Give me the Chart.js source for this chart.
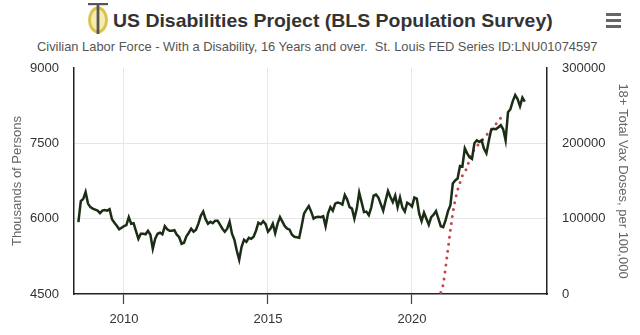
<!DOCTYPE html>
<html>
<head>
<meta charset="utf-8">
<script src="https://cdn.jsdelivr.net/npm/chart.js@4.4.1/dist/chart.umd.min.js"></script>
<style>
  html, body { margin: 0; padding: 0; background: #fff; }
  #wrap { position: relative; width: 640px; height: 335px; overflow: hidden; font-family: 'Liberation Sans', Arial, sans-serif; }
  #chart { position: absolute; left: 0; top: 0; }
  .fit { position: absolute; white-space: nowrap; transform-origin: 0 0; line-height: 1; }
  #title { left: 113px; top: 11px; font-weight: bold; font-size: 19px; color: #333; }
  #subtitle { left: 37px; top: 40px; font-size: 13px; color: #555; }
  #logo { position: absolute; left: 86px; top: 2px; }
  #menu { position: absolute; left: 606px; top: 13px; width: 15px; }
  #menu span { display: block; height: 2.5px; background: #666; margin-bottom: 3.5px; }
</style>
</head>
<body>
<div id="wrap">
  <svg id="logo" width="24" height="34" viewBox="0 0 24 34">
    <ellipse cx="12" cy="18" rx="8.5" ry="12" fill="#f7ecb0" stroke="#dcc24e" stroke-width="3"/>
    <rect x="2" y="1" width="20" height="2.2" fill="#555"/>
    <rect x="10.6" y="1" width="2.8" height="31" fill="#555"/>
  </svg>
  <div id="title" class="fit">US Disabilities Project (BLS Population Survey)</div>
  <div id="subtitle" class="fit">Civilian Labor Force - With a Disability, 16 Years and over.&nbsp; St. Louis FED Series ID:LNU01074597</div>
  <div id="menu"><span></span><span></span><span></span></div>
  <canvas id="chart" width="640" height="335"></canvas>
</div>
<script>
// monthly labour force with a disability (thousands), from June 2008
const laborStartYear = 2008, laborStartMonth = 6;
const laborForce = [
  5930, 6350, 6390, 6530, 6300, 6230, 6200, 6180, 6160, 6110, 6160, 6170,
  6160, 6190, 5990, 5920, 5860, 5790, 5820, 5850, 5870, 6030, 5900, 5910,
  5750, 5600, 5700, 5700, 5690, 5760, 5680, 5400, 5600, 5700, 5720, 5690,
  5850, 5790, 5760, 5760, 5770, 5680, 5630, 5500, 5520, 5650, 5720, 5800,
  5740, 5780, 5900, 6060, 6140, 5990, 5900, 5940, 5910, 5960, 5960, 5880,
  5800, 5740, 5800, 5940, 5700, 5580, 5360, 5180, 5440, 5580, 5540, 5620,
  5600, 5640, 5760, 5920, 5890, 5950, 5890, 5740, 5800, 5900, 5710, 5900,
  6030, 5940, 5850, 5800, 5780, 5680, 5640, 5630, 5620, 5850, 6100, 6180,
  6250, 6140, 6000, 6030, 6040, 6030, 6050, 5850, 6100, 6230, 6160, 6300,
  6320, 6310, 6280, 6470, 6380, 6230, 6200, 6000, 6200, 6520, 6330, 6130,
  6140, 6070, 6220, 6460, 6480, 6420, 6290, 6160, 6360, 6550, 6430, 6330,
  6460, 6230, 6420, 6220, 6140, 6320, 6290, 6240, 6420, 6400, 6100, 5950,
  6120, 6000, 5880, 6030, 6080, 6150, 6000, 5850, 5830, 5970, 6150, 6270,
  6700, 6760, 6800, 7050, 7040, 7400, 7300, 7220, 7190, 7500, 7560, 7530,
  7560, 7390, 7300, 7550, 7770, 7790, 7780, 7820, 7860, 7780, 7560, 8120,
  8180, 8340, 8460, 8380, 8240, 8410, 8330
];

// cumulative 18+ vaccine doses per 100,000, monthly from January 2021
const vaxStartYear = 2021, vaxStartMonth = 1;
const vaxDoses = [
  2000, 12000, 35000, 60000, 85000, 108000, 125000, 138000, 148000, 157000, 162000, 168000,
  180000, 187000, 192000, 196000, 200000, 203000, 207000, 211000, 214000, 218000, 222000, 226000,
  229000, 234000
];

const yearTicks = [2010, 2015, 2020];
const personTicks = [4500, 6000, 7500, 9000];
const doseTicks = [0, 100000, 200000, 300000];

const toPoints = (values, y0, m0) =>
  values.map((v, i) => ({ x: y0 + (m0 - 1 + i) / 12, y: v }));

// squeeze header text to its box
function fitWidth(id, w) {
  const el = document.getElementById(id);
  el.style.transform = 'scaleX(' + (w / el.offsetWidth) + ')';
}
fitWidth('title', 440);
fitWidth('subtitle', 561);

Chart.defaults.font.family = "'Liberation Sans', Arial, sans-serif";
Chart.defaults.font.size = 13;
Chart.defaults.color = '#333';

const gridColor = '#e6e6e6';
const axisColor = '#222';

new Chart(document.getElementById('chart').getContext('2d'), {
  type: 'line',
  data: {
    datasets: [
      {
        label: 'Labor Force',
        data: toPoints(laborForce, laborStartYear, laborStartMonth),
        borderColor: '#1b2d15',
        borderWidth: 2.5,
        pointRadius: 0,
        tension: 0,
        yAxisID: 'y'
      },
      {
        label: 'Vax Doses',
        data: toPoints(vaxDoses, vaxStartYear, vaxStartMonth),
        borderColor: '#c4454a',
        borderWidth: 3,
        borderDash: [0, 7],
        borderCapStyle: 'round',
        pointRadius: 0,
        tension: 0,
        yAxisID: 'y2'
      }
    ]
  },
  options: {
    responsive: false,
    animation: false,
    layout: { padding: { top: 68, left: 0, right: 0, bottom: 0 } },
    plugins: { legend: { display: false }, tooltip: { enabled: false } },
    scales: {
      x: {
        type: 'linear',
        min: 2008.264,
        max: 2024.6875,
        afterBuildTicks: s => { s.ticks = yearTicks.map(v => ({ value: v })); },
        afterFit: s => { s.height = 41; },
        ticks: { padding: 8, maxRotation: 0, callback: v => String(v) },
        grid: { color: gridColor, lineWidth: 1, tickColor: '#444', tickLength: 10, tickWidth: 1.2 },
        border: { color: axisColor, width: 1.5 }
      },
      y: {
        position: 'left',
        min: 4500,
        max: 9000,
        afterBuildTicks: s => { s.ticks = personTicks.map(v => ({ value: v })); },
        afterFit: s => { s.width = 74; },
        ticks: { padding: 15, callback: v => String(v) },
        grid: {
          drawTicks: false,
          color: c => (c.tick && (c.tick.value === 4500 || c.tick.value === 9000)) ? 'rgba(0,0,0,0)' : gridColor
        },
        border: { color: axisColor, width: 1.5 },
        title: { display: true, text: 'Thousands of Persons', color: '#666', padding: { top: 10, bottom: 0 } }
      },
      y2: {
        position: 'right',
        min: 0,
        max: 300000,
        afterBuildTicks: s => { s.ticks = doseTicks.map(v => ({ value: v })); },
        afterFit: s => { s.width = 93; },
        ticks: { padding: 15, callback: v => String(v) },
        grid: { drawOnChartArea: false, drawTicks: false },
        border: { color: axisColor, width: 1.5 },
        title: { display: true, text: '18+ Total Vax Doses, per 100,000', color: '#666', padding: { top: 10, bottom: 0 } }
      }
    }
  }
});
</script>
</body>
</html>
